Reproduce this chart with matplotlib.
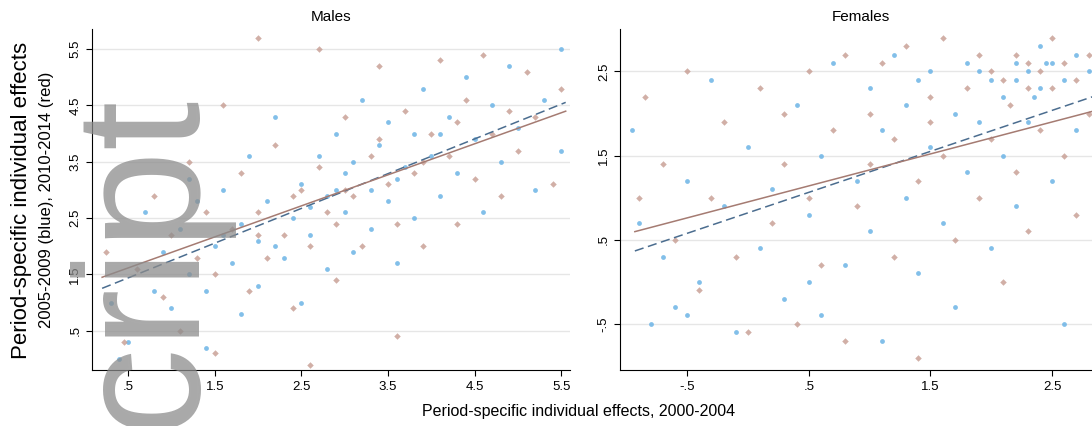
import numpy as np
import matplotlib
matplotlib.use("Agg")
import matplotlib.pyplot as plt

# males, 2005-2009 (blue)
m_blue_x = [0.3, 0.4, 0.5, 0.7, 0.8, 0.9, 1.0, 1.1, 1.2, 1.2, 1.3, 1.4, 1.4, 1.5, 1.6, 1.7, 1.8, 1.8, 1.9, 2.0,
            2.0, 2.1, 2.2, 2.3, 2.4, 2.5, 2.5, 2.6, 2.7, 2.8, 2.8, 2.9, 3.0, 3.0, 3.1, 3.2, 3.3, 3.3, 3.4, 3.5,
            3.5, 3.6, 3.7, 3.8, 3.8, 3.9, 4.0, 4.1, 4.2, 4.3, 4.4, 4.5, 4.6, 4.7, 4.8, 4.9, 5.0, 5.2, 5.3, 5.5,
            5.5, 2.2, 2.6, 3.1, 3.6, 4.1, 1.6, 2.9]
m_blue_y = [1.0, 0.0, 0.3, 2.6, 1.2, 1.9, 0.9, 2.3, 1.5, 3.2, 2.8, 0.2, 1.2, 2.0, 3.0, 1.7, 2.4, 0.8, 3.6, 2.1,
            1.3, 2.8, 4.3, 1.8, 2.5, 3.1, 1.0, 2.2, 3.6, 2.9, 1.6, 4.0, 2.6, 3.3, 1.9, 4.6, 3.0, 2.3, 3.8, 2.8,
            4.2, 1.7, 3.4, 4.0, 2.5, 4.8, 3.6, 2.9, 4.3, 3.3, 5.0, 3.9, 2.6, 4.5, 3.5, 5.2, 4.1, 3.0, 4.6, 5.5,
            3.7, 2.0, 2.7, 3.5, 3.2, 4.0, 2.2, 3.0]
# males, 2010-2014 (red)
m_red_x = [0.25, 0.45, 0.6, 0.8, 0.9, 1.0, 1.1, 1.2, 1.3, 1.4, 1.5, 1.5, 1.6, 1.7, 1.8, 1.9, 2.0, 2.0, 2.1, 2.2,
           2.3, 2.4, 2.5, 2.6, 2.6, 2.7, 2.7, 2.8, 2.9, 3.0, 3.1, 3.2, 3.3, 3.4, 3.5, 3.6, 3.6, 3.7, 3.8, 3.9,
           4.0, 4.1, 4.2, 4.3, 4.4, 4.5, 4.6, 4.7, 4.8, 4.9, 5.0, 5.1, 5.2, 5.4, 5.5, 2.4, 3.0, 3.4, 3.9, 4.3,
           2.0, 2.9]
m_red_y = [1.9, 0.3, 1.6, 2.9, 1.1, 2.2, 0.5, 3.5, 1.8, 2.6, 0.1, 1.5, 4.5, 2.3, 3.3, 1.2, 5.7, 2.6, 1.8, 3.8,
           2.2, 0.9, 3.0, -0.1, 2.0, 5.5, 3.4, 2.6, 1.4, 4.3, 2.9, 2.0, 3.6, 5.2, 3.1, 0.4, 2.4, 4.4, 3.3, 2.0,
           4.0, 5.3, 3.6, 2.4, 4.6, 3.2, 5.4, 4.0, 2.9, 4.4, 3.7, 5.1, 4.3, 3.1, 4.8, 2.9, 3.0, 3.9, 3.5, 4.2,
           2.2, 2.4]

# females, 2005-2009 (blue)
f_blue_x = [-0.95, -0.9, -0.8, -0.7, -0.6, -0.5, -0.4, -0.3, -0.2, -0.1, 0.0, 0.1, 0.2, 0.3, 0.4, 0.5, 0.6, 0.6,
            0.7, 0.8, 0.9, 1.0, 1.0, 1.1, 1.1, 1.2, 1.3, 1.3, 1.4, 1.5, 1.5, 1.6, 1.7, 1.7, 1.8, 1.8, 1.9, 2.0,
            2.0, 2.1, 2.1, 2.2, 2.2, 2.3, 2.3, 2.4, 2.4, 2.5, 2.5, 2.6, 2.6, 2.7, 2.7, 2.8, 2.9, 2.9, 2.2, 2.35,
            2.45, 1.4, 1.9, 0.5, -0.5]
f_blue_y = [1.8, 0.7, -0.5, 0.3, -0.3, 1.2, 0.0, 2.4, 0.9, -0.6, 1.6, 0.4, 1.1, -0.2, 2.1, 0.8, 1.5, -0.4,
            2.6, 0.2, 1.2, 2.3, 0.6, 1.8, -0.7, 2.7, 1.0, 2.1, 0.1, 1.6, 2.5, 0.7, 2.0, -0.3, 2.6, 1.3, 1.9, 2.4,
            0.4, 2.2, 1.5, 2.6, 0.9, 2.5, 1.9, 2.8, 2.3, 1.2, 2.6, 2.4, -0.5, 2.7, 1.8, 2.5, 2.9, 1.6, 2.4, 2.2,
            2.6, 2.4, 2.5, 0.0, -0.4]
# females, 2010-2014 (red)
f_red_x = [-0.9, -0.85, -0.7, -0.6, -0.5, -0.4, -0.3, -0.2, -0.1, 0.0, 0.1, 0.2, 0.3, 0.4, 0.5, 0.5, 0.6, 0.7,
           0.8, 0.8, 0.9, 1.0, 1.0, 1.1, 1.2, 1.2, 1.3, 1.4, 1.4, 1.5, 1.6, 1.6, 1.7, 1.8, 1.9, 1.9, 2.0, 2.0,
           2.1, 2.1, 2.2, 2.2, 2.3, 2.3, 2.4, 2.4, 2.5, 2.5, 2.6, 2.6, 2.7, 2.7, 2.8, 2.8, 2.9, 2.3, 2.15, 1.5,
           0.3]
f_red_y = [1.0, 2.2, 1.4, 0.5, 2.5, -0.1, 1.0, 1.9, 0.3, -0.6, 2.3, 0.7, 1.4, -0.5, 2.5, 1.0, 0.2, 1.8,
           2.7, -0.7, 0.9, 2.0, 1.4, 2.6, 0.3, 1.7, 2.8, 1.2, -0.9, 2.2, 2.9, 1.5, 0.5, 2.3, 1.0, 2.7, 1.7, 2.5,
           0.0, 2.4, 1.3, 2.7, 2.3, 0.6, 2.5, 1.8, 2.9, 2.3, 1.5, 2.6, 2.4, 0.8, 2.7, 2.0, 2.5, 2.6, 2.1, 1.9,
           2.0]

# fitted lines: (intercept, slope)
m_fit_blue = (1.13, 0.617)
m_fit_red = (1.34, 0.551)
f_fit_blue = (0.82, 0.487)
f_fit_red = (0.95, 0.38)

tick_vals = [-0.5, 0.5, 1.5, 2.5, 3.5, 4.5, 5.5]
tick_text = ["-.5", ".5", "1.5", "2.5", "3.5", "4.5", "5.5"]

blue = "#6cb4e6"
red = "#c9a197"

plt.rcParams['font.family'] = ['Liberation Sans', 'DejaVu Sans']

fig = plt.figure(figsize=(10.92, 4.26), dpi=100)
ax1 = fig.add_axes([0.084, 0.131, 0.438, 0.80])
ax2 = fig.add_axes([0.568, 0.131, 0.44, 0.80])


def panel(ax, bx, by, rx, ry, fb, fr, xlim, ylim, xt, yt, title):
    ax.scatter(bx, by, s=12, color=blue, alpha=0.85, marker="o", linewidths=0)
    ax.scatter(rx, ry, s=11, color=red, alpha=0.85, marker="D", linewidths=0)
    xs = np.array(xlim)
    ax.plot(xs, fb[0] + fb[1] * xs, color="#4b6d8f", lw=1.1, ls=(0, (6, 3)))
    ax.plot(xs, fr[0] + fr[1] * xs, color="#a57b72", lw=1.1)
    ax.set_xlim(xlim[0] - 0.12, xlim[1] + 0.05)
    ax.set_ylim(*ylim)
    ax.set_xticks(xt)
    ax.set_xticklabels([tick_text[tick_vals.index(v)] for v in xt], fontsize=9.5)
    ax.set_yticks(yt)
    ax.set_yticklabels([tick_text[tick_vals.index(v)] for v in yt], fontsize=9.5, rotation=90, va="center")
    ax.grid(axis="y", color="#e6e6e6", lw=1)
    ax.set_axisbelow(True)
    for s in ["top", "right"]:
        ax.spines[s].set_visible(False)
    ax.tick_params(length=4, width=0.8)
    ax.set_title(title, fontsize=11, pad=6)


panel(ax1, m_blue_x, m_blue_y, m_red_x, m_red_y, m_fit_blue, m_fit_red,
      (0.2, 5.55), (-0.2, 5.85), [0.5, 1.5, 2.5, 3.5, 4.5, 5.5], [0.5, 1.5, 2.5, 3.5, 4.5, 5.5], "Males")
panel(ax2, f_blue_x, f_blue_y, f_red_x, f_red_y, f_fit_blue, f_fit_red,
      (-0.93, 2.9), (-1.05, 3.0), [-0.5, 0.5, 1.5, 2.5], [-0.5, 0.5, 1.5, 2.5], "Females")
ax2.set_xlim(-1.05, 2.9)

fig.text(0.02, 0.53, "Period-specific individual effects", rotation=90, fontsize=16, ha="center", va="center")
fig.text(0.043, 0.53, "2005-2009 (blue), 2010-2014 (red)", rotation=90, fontsize=12, ha="center", va="center")
fig.text(0.53, 0.033, "Period-specific individual effects, 2000-2004", fontsize=11.5, ha="center", va="center")

# watermark
fig.text(0.128, 0.80, "Manuscript", rotation=90, fontsize=128, color="#8c8c8c", alpha=0.75,
         ha="center", va="top", zorder=10)

fig.savefig("out.png", dpi=100)
